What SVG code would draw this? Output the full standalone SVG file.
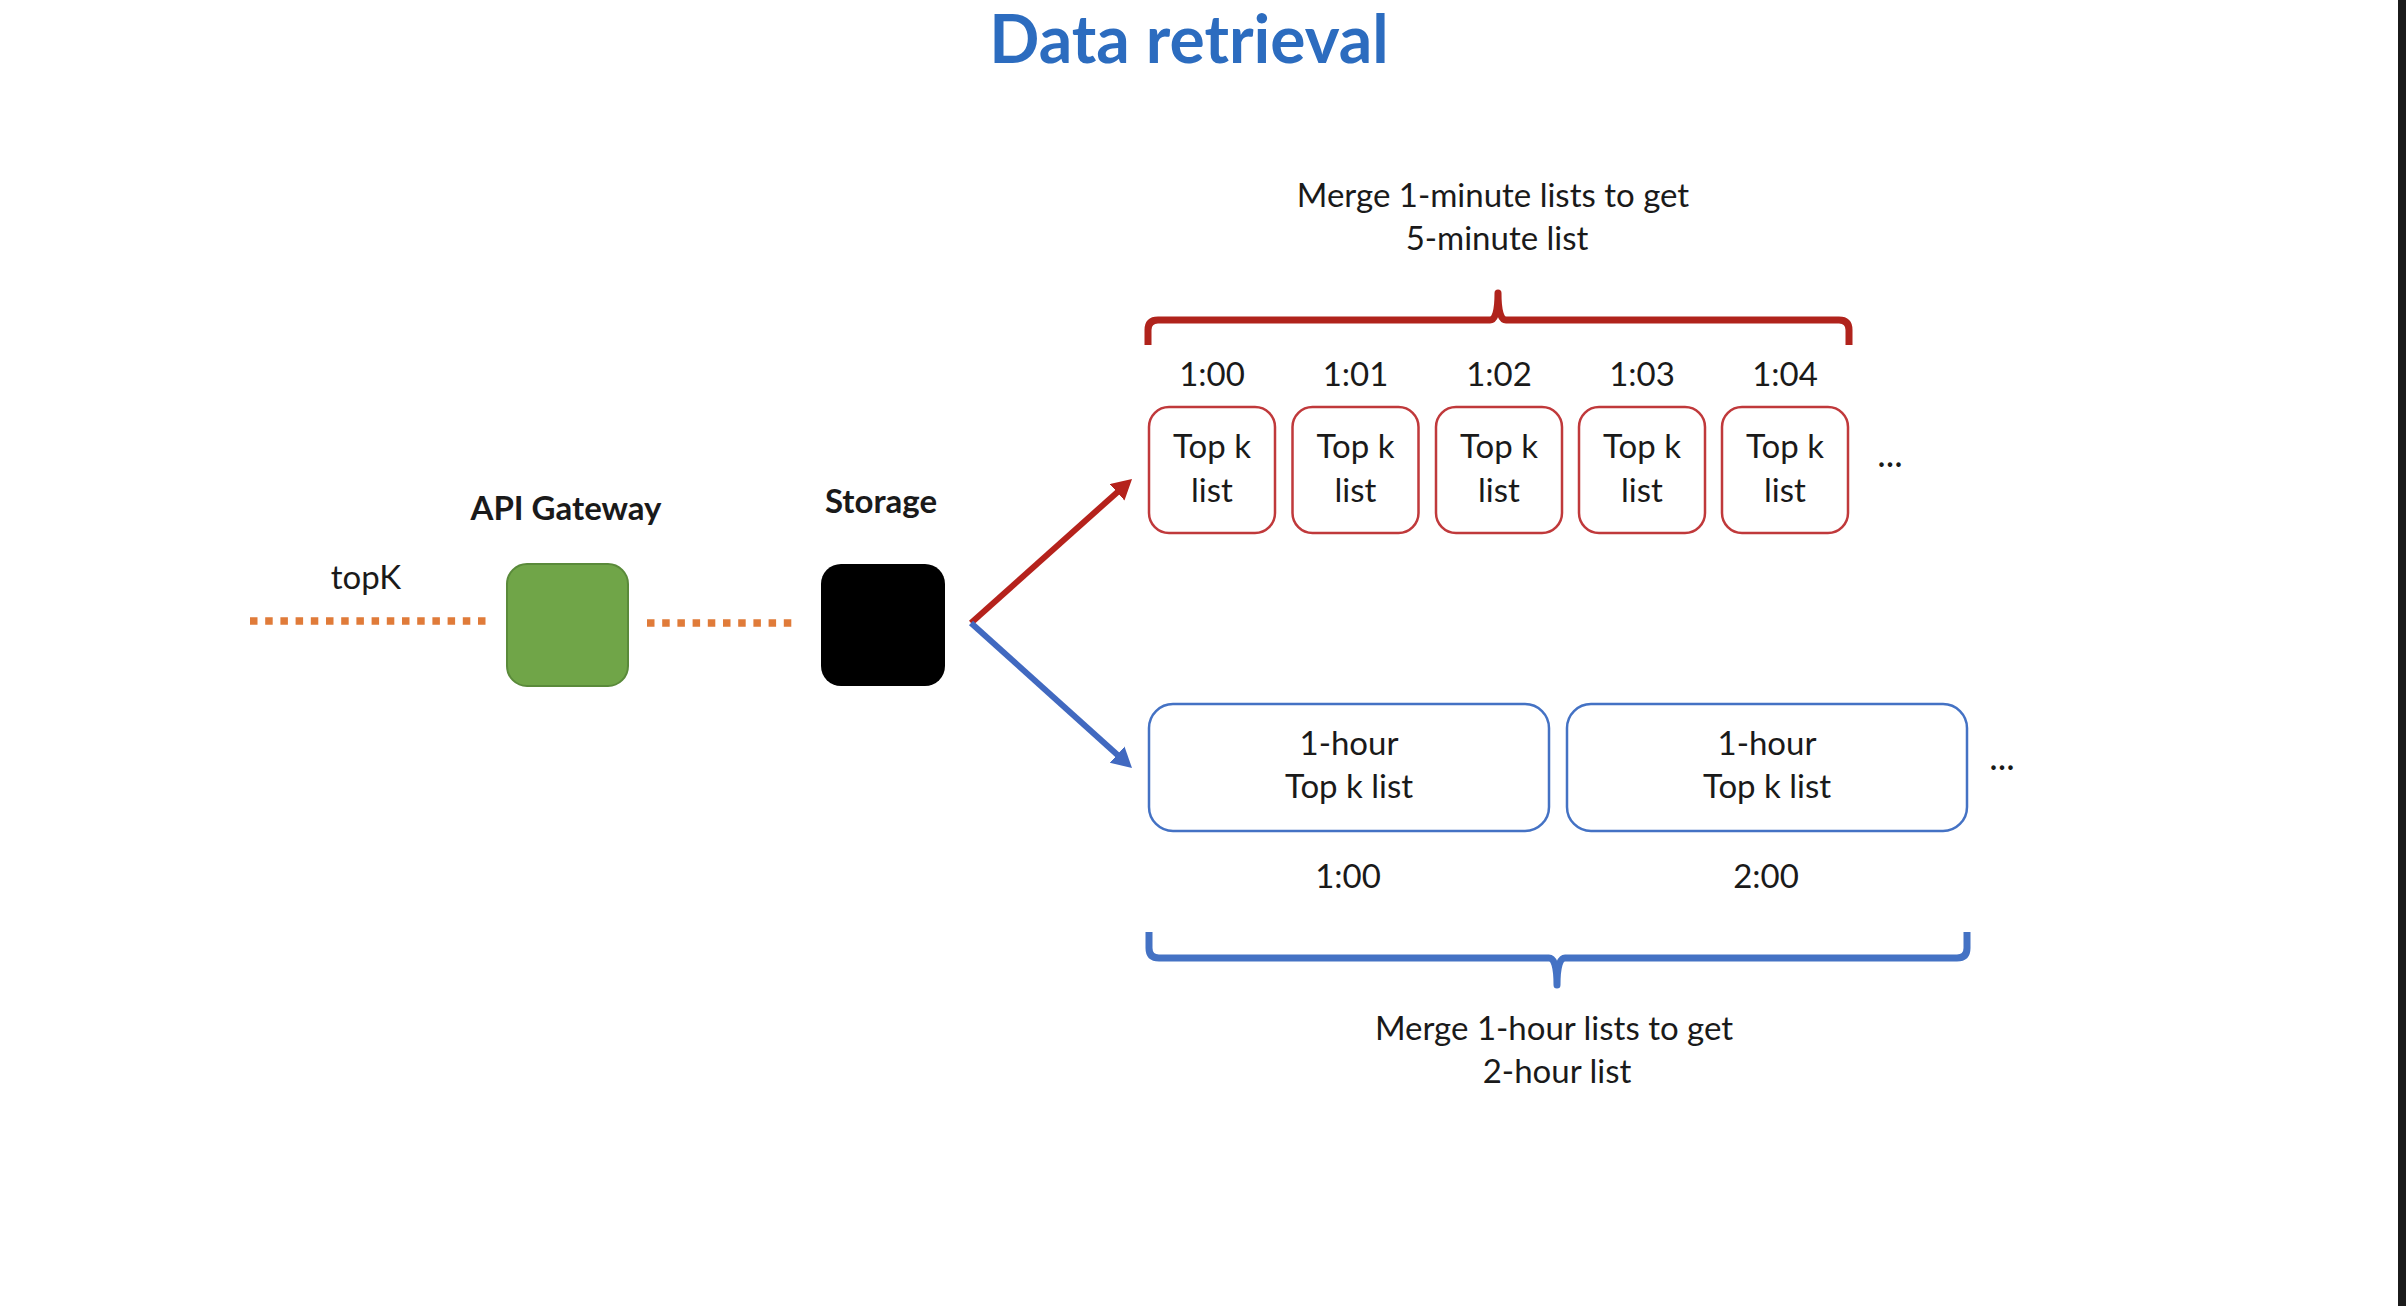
<svg xmlns="http://www.w3.org/2000/svg" width="2406" height="1306" viewBox="0 0 2406 1306">
<style>
text{font-family:Lato,"Open Sans","Liberation Sans",sans-serif;fill:#1a1a1a;text-anchor:middle}
.t{font-size:33px}
.e{font-size:36px}
.b{font-size:33px;font-weight:bold}
.title{font-size:66px;font-weight:bold;fill:#2c6cbf}
.dot{stroke:#e07b39;stroke-width:7.5;stroke-dasharray:7.5 7.7;fill:none}
.rbox{fill:#fff;stroke:#c0393b;stroke-width:2.5}
.bbox{fill:#fff;stroke:#4472c4;stroke-width:2.5}
.brace{fill:none;stroke-width:7;stroke-linejoin:round}
</style>
<defs>
<marker id="ahr" markerUnits="userSpaceOnUse" markerWidth="22" markerHeight="24" refX="4" refY="11" orient="auto"><path d="M0,0 L20,11 L0,22 z" fill="#b5221c"/></marker>
<marker id="ahb" markerUnits="userSpaceOnUse" markerWidth="22" markerHeight="24" refX="4" refY="11" orient="auto"><path d="M0,0 L20,11 L0,22 z" fill="#4169c0"/></marker>
</defs>
<rect width="2406" height="1306" fill="#fff"/>
<rect x="2398" y="0" width="8" height="1306" fill="#1b1b1b"/>
<text class="title" x="1189" y="63">Data retrieval</text>
<text class="t" x="366" y="589">topK</text>
<g id="connectors">
<line class="dot" x1="250" y1="621" x2="486" y2="621"/>
<line class="dot" x1="647" y1="623" x2="792" y2="623"/>
<line x1="971" y1="623" x2="1120.1" y2="489.7" stroke="#b5221c" stroke-width="6" marker-end="url(#ahr)"/>
<line x1="971" y1="623" x2="1120.1" y2="757.3" stroke="#4169c0" stroke-width="6" marker-end="url(#ahb)"/>
</g>
<g id="api-gateway">
<rect x="507" y="564" width="121" height="122" rx="20" fill="#70a548" stroke="#5a8a3a" stroke-width="2"/>
<text class="b" x="566" y="520">API Gateway</text>
</g>
<g id="storage">
<rect x="821" y="564" width="124" height="122" rx="20" fill="#000"/>
<text class="b" x="881" y="513">Storage</text>
</g>
<g id="brace-top">
<path class="brace" stroke="#b0231c" d="M1148,345 V330 Q1148,320 1158,320 H1490 Q1498,320 1498,293 Q1498,320 1506,320 H1839 Q1849,320 1849,330 V345"/>
<text class="t" x="1493" y="207">Merge 1-minute lists to get</text>
<text class="t" x="1497" y="250">5-minute list</text>
</g>
<g id="min-0">
<text class="t" x="1212" y="386">1:00</text>
<rect class="rbox" x="1149" y="407" width="126" height="126" rx="20"/>
<text class="t" x="1212" y="458">Top k</text><text class="t" x="1212" y="502">list</text>
</g>
<g id="min-1">
<text class="t" x="1355.5" y="386">1:01</text>
<rect class="rbox" x="1292.5" y="407" width="126" height="126" rx="20"/>
<text class="t" x="1355.5" y="458">Top k</text><text class="t" x="1355.5" y="502">list</text>
</g>
<g id="min-2">
<text class="t" x="1499" y="386">1:02</text>
<rect class="rbox" x="1436" y="407" width="126" height="126" rx="20"/>
<text class="t" x="1499" y="458">Top k</text><text class="t" x="1499" y="502">list</text>
</g>
<g id="min-3">
<text class="t" x="1642" y="386">1:03</text>
<rect class="rbox" x="1579" y="407" width="126" height="126" rx="20"/>
<text class="t" x="1642" y="458">Top k</text><text class="t" x="1642" y="502">list</text>
</g>
<g id="min-4">
<text class="t" x="1785" y="386">1:04</text>
<rect class="rbox" x="1722" y="407" width="126" height="126" rx="20"/>
<text class="t" x="1785" y="458">Top k</text><text class="t" x="1785" y="502">list</text>
</g>
<text class="e" x="1890" y="467">...</text>
<g id="hour-1">
<rect class="bbox" x="1149" y="704" width="400" height="127" rx="24"/>
<text class="t" x="1349" y="755">1-hour</text><text class="t" x="1349" y="798">Top k list</text>
<text class="t" x="1348" y="888">1:00</text>
</g>
<g id="hour-2">
<rect class="bbox" x="1567" y="704" width="400" height="127" rx="24"/>
<text class="t" x="1767" y="755">1-hour</text><text class="t" x="1767" y="798">Top k list</text>
<text class="t" x="1766" y="888">2:00</text>
</g>
<text class="e" x="2002" y="770">...</text>
<g id="brace-bottom">
<path class="brace" stroke="#4472c4" d="M1149,932 V948 Q1149,958 1159,958 H1549 Q1557,958 1557,985 Q1557,958 1565,958 H1957 Q1967,958 1967,948 V932"/>
<text class="t" x="1554" y="1040">Merge 1-hour lists to get</text>
<text class="t" x="1557" y="1083">2-hour list</text>
</g>
</svg>
